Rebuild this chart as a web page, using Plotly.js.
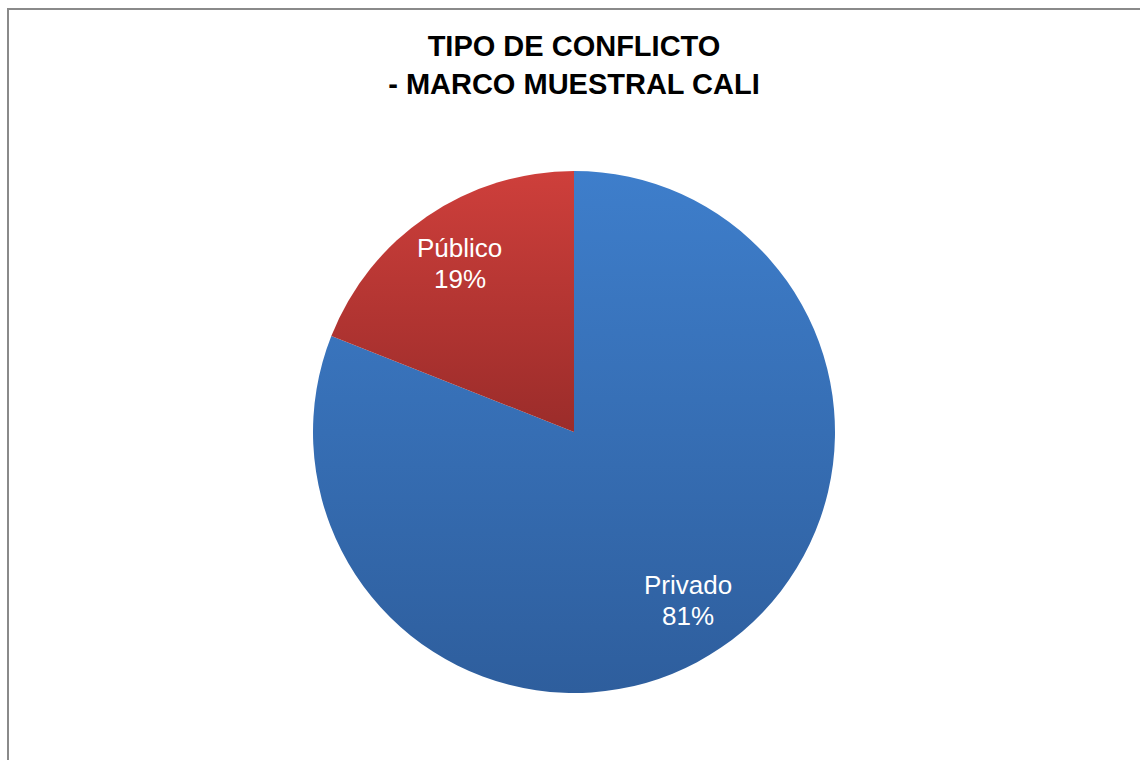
<!DOCTYPE html>
<html>
<head>
<meta charset="utf-8">
<script src="https://cdn.plot.ly/plotly-3.0.1.min.js"></script>
<style>
  html, body { margin: 0; padding: 0; background: #fff; }
  #chart { width: 1140px; height: 760px; position: relative; }
  #frame { position: absolute; left: 7px; top: 8px; width: 2000px; height: 2000px;
           border: 2px solid #8a8a8a; pointer-events: none; box-sizing: border-box; }
</style>
</head>
<body>
<div id="chart"></div>
<div id="frame"></div>
<script>
const categories = ["Privado", "Público"];
const values = [81, 19];
const colorsTop = ["#3E7ECB", "#CE3F3B"];
const colorsBottom = ["#2E5E9D", "#9B2C2A"];
const colorsMid = ["#3670BA", "#B53634"];

const FONT = "Liberation Sans, Arial, sans-serif";
const LABEL_RADIUS_FRACTION = 0.78;

const trace = {
  type: "pie",
  labels: categories,
  values: values,
  sort: false,
  direction: "clockwise",
  rotation: 0,
  textinfo: "none",
  marker: { colors: colorsMid, line: { width: 0 } },
  hoverinfo: "label+percent",
  showlegend: false
};

const layout = {
  width: 1140,
  height: 760,
  margin: { l: 8, r: 0, t: 171, b: 67 },
  paper_bgcolor: "#ffffff",
  plot_bgcolor: "#ffffff",
  showlegend: false,
  title: {
    text: "<b>TIPO DE CONFLICTO<br>- MARCO MUESTRAL CALI</b>",
    font: { family: FONT, size: 29, color: "#000000" },
    x: 0.5035, xref: "container", xanchor: "center",
    y: 1 - 56 / 760, yref: "container", yanchor: "top"
  }
};

function applyGradients(gd) {
  const svg = gd.querySelector("svg.main-svg");
  if (!svg) return;
  let defs = svg.querySelector("defs");
  if (!defs) { defs = document.createElementNS("http://www.w3.org/2000/svg", "defs"); svg.insertBefore(defs, svg.firstChild); }
  categories.forEach((c, i) => {
    const id = "sliceGrad" + i;
    if (!defs.querySelector("#" + id)) {
      const g = document.createElementNS("http://www.w3.org/2000/svg", "linearGradient");
      g.setAttribute("id", id);
      g.setAttribute("x1", "0"); g.setAttribute("y1", "0");
      g.setAttribute("x2", "0"); g.setAttribute("y2", "1");
      [["0%", colorsTop[i]], ["100%", colorsBottom[i]]].forEach(([o, col]) => {
        const s = document.createElementNS("http://www.w3.org/2000/svg", "stop");
        s.setAttribute("offset", o); s.setAttribute("stop-color", col);
        g.appendChild(s);
      });
      defs.appendChild(g);
    }
  });
  const slices = gd.querySelectorAll("g.slice path.surface");
  slices.forEach((p, i) => { p.style.fill = "url(#sliceGrad" + i + ")"; });
}

function buildLabels(gd) {
  const sz = gd._fullLayout._size;
  const rPx = Math.min(sz.w, sz.h) / 2;
  const total = values.reduce((a, b) => a + b, 0);
  const anns = [];
  let cum = 0;
  values.forEach((v, i) => {
    const midFrac = (cum + v / 2) / total;
    cum += v;
    const ang = midFrac * 2 * Math.PI; // clockwise from 12 o'clock
    const dxPx = Math.sin(ang) * rPx * LABEL_RADIUS_FRACTION;
    const dyPx = Math.cos(ang) * rPx * LABEL_RADIUS_FRACTION;
    const x = 0.5 + dxPx / sz.w;
    const y = 0.5 + dyPx / sz.h;
    const pct = Math.round(v / total * 100) + "%";
    const base = { xref: "paper", yref: "paper", x: x, y: y, showarrow: false,
                   xanchor: "center", yanchor: "middle",
                   font: { family: FONT, size: 26, color: "#ffffff" } };
    anns.push(Object.assign({}, base, { text: categories[i], yshift: 15.5 }));
    anns.push(Object.assign({}, base, { text: pct, yshift: -15.5 }));
  });
  return Plotly.relayout(gd, { annotations: anns });
}

Plotly.newPlot("chart", [trace], layout, { displayModeBar: false, staticPlot: true })
  .then(gd => buildLabels(gd))
  .then(gd => applyGradients(document.getElementById("chart")));
</script>
</body>
</html>
